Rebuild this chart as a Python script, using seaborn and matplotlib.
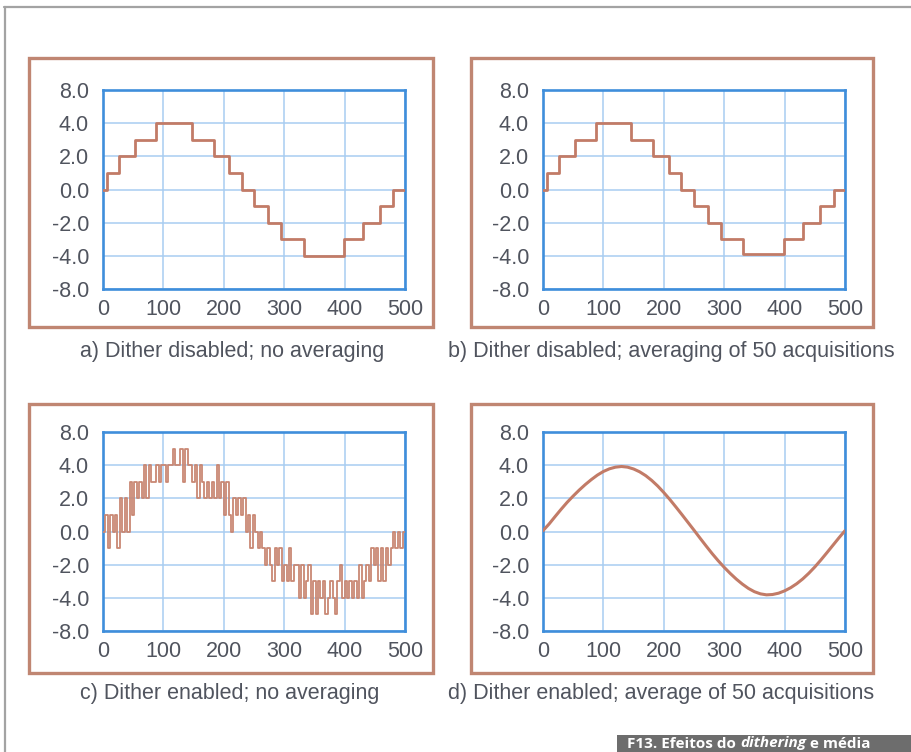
import numpy as np
import pandas as pd
import matplotlib
matplotlib.use("Agg")
import matplotlib.pyplot as plt
import seaborn as sns
from matplotlib.patches import Rectangle
from matplotlib.lines import Line2D

# ---------------- data ----------------
x_ticks = [0, 100, 200, 300, 400, 500]
y_tick_pos = [-6, -4, -2, 0, 2, 4, 6]
y_tick_labels = ["-8.0", "-4.0", "-2.0", "0.0", "2.0", "4.0", "8.0"]

# a) Dither disabled; no averaging  (step edges and levels)
a_x = [0, 7, 27, 53, 88, 147, 183, 209, 230, 250, 274, 295, 332, 399, 431, 459, 480, 500]
a_y = [0, 1, 2, 3, 4, 3, 2, 1, 0, -1, -2, -3, -4, -3, -2, -1, 0, 0]

# b) Dither disabled; averaging of 50 acquisitions
b_x = [0, 6, 27, 53, 88, 146, 182, 208, 229, 250, 273, 294, 331, 399, 431, 459, 481, 500]
b_y = [0, 1, 2, 3, 4, 3, 2, 1, 0, -1, -2, -3, -3.9, -3, -2, -1, 0, 0]

# c) Dither enabled; no averaging (samples every 4 units)
c_y = [0, 1, -1, 1, 0, 1, -1, 2, 0, 2,
       0, 3, 1, 3, 2, 3, 2, 4, 2, 4,
       3, 3, 4, 3, 4, 4, 3, 4, 4, 5,
       4, 4, 5, 3, 5, 4, 4, 3, 4, 2,
       4, 3, 2, 3, 2, 3, 2, 4, 2, 3,
       1, 3, 1, 0, 2, 1, 2, 1, 2, 0,
       1, -1, 1, 0, -1, 0, -1, -2, -1, -2,
       -3, -1, -2, -1, -3, -2, -3, -1, -3, -2,
       -2, -4, -2, -4, -3, -2, -5, -3, -5, -3,
       -4, -3, -5, -4, -3, -4, -5, -3, -2, -4,
       -3, -4, -3, -4, -3, -4, -2, -4, -3, -2,
       -3, -1, -2, -1, -3, -1, -3, -1, -2, -1,
       0, -1, 0, -1, 0, 0]
c_x = [4 * i for i in range(len(c_y))]

# d) Dither enabled; average of 50 acquisitions
d_x = list(range(0, 501, 10))
d_y = [0.05, 0.45, 0.90, 1.34, 1.76, 2.14, 2.50, 2.83, 3.13, 3.40,
       3.62, 3.78, 3.88, 3.92, 3.88, 3.77, 3.60, 3.37, 3.08, 2.74,
       2.35, 1.93, 1.48, 1.02, 0.55, 0.08, -0.40, -0.87, -1.33, -1.76,
       -2.16, -2.53, -2.87, -3.17, -3.43, -3.63, -3.76, -3.82, -3.80, -3.72,
       -3.58, -3.39, -3.15, -2.86, -2.52, -2.14, -1.72, -1.28, -0.83, -0.38,
       0.05]

captions = ["a) Dither disabled; no averaging",
            "b) Dither disabled; averaging of 50 acquisitions",
            "c) Dither enabled; no averaging",
            "d) Dither enabled; average of 50 acquisitions"]

# ---------------- style ----------------
sns.set_theme(style="white")
plt.rcParams["font.family"] = ["Liberation Sans", "DejaVu Sans"]

W, H = 911, 752
fig = plt.figure(figsize=(W / 100, H / 100), dpi=100)
fig.patch.set_facecolor("white")

TEXT = "#50545e"
SPINE = "#3f8edb"
GRID = "#a8cdf1"
LINE = "#c27b67"
BOX = "#c08672"


def rect(l, t, r, b):
    return [l / W, 1 - b / H, (r - l) / W, (b - t) / H]


axes_px = [(103, 90, 405, 289), (543, 90, 845, 289),
           (103, 432, 405, 631), (543, 432, 845, 631)]
boxes_px = [(29, 58, 433, 327), (471, 58, 873, 327),
            (29, 404, 433, 673), (471, 404, 873, 673)]
caption_px = [(80, 351), (448, 351), (80, 693), (448, 693)]

series = [(a_x, a_y, "steps-post", 2.0, LINE),
          (b_x, b_y, "steps-post", 2.0, LINE),
          (c_x, c_y, "steps-post", 1.3, "#c98874"),
          (d_x, d_y, "default", 2.2, LINE)]

for i in range(4):
    l, t, r, b = boxes_px[i]
    fig.add_artist(Rectangle((l / W, 1 - b / H), (r - l) / W, (b - t) / H,
                             transform=fig.transFigure, fill=False,
                             edgecolor=BOX, linewidth=2.4))
    ax = fig.add_axes(rect(*axes_px[i]))
    xs, ys, ds, lw, col = series[i]
    df = pd.DataFrame({"x": xs, "y": ys})
    sns.lineplot(data=df, x="x", y="y", ax=ax, estimator=None, sort=False,
                 drawstyle=ds, color=col, linewidth=lw, zorder=3)
    ax.set_xlim(0, 500)
    ax.set_ylim(-6, 6)
    ax.set_xticks(x_ticks)
    ax.set_yticks(y_tick_pos)
    ax.set_yticklabels(y_tick_labels)
    ax.set_xlabel("")
    ax.set_ylabel("")
    ax.grid(True, color=GRID, linewidth=1.1, zorder=1)
    ax.set_axisbelow(True)
    for s in ax.spines.values():
        s.set_color(SPINE)
        s.set_linewidth(1.9)
        s.set_visible(True)
    ax.tick_params(axis="both", length=0, labelsize=15.5, colors=TEXT)
    ax.tick_params(axis="y", pad=10)
    ax.tick_params(axis="x", pad=7)
    cx, cy = caption_px[i]
    fig.text(cx / W, 1 - cy / H, captions[i], ha="left", va="center",
             fontsize=15.5, color=TEXT)

# outer frame lines
fig.add_artist(Line2D([4 / W, 1], [1 - 7 / H, 1 - 7 / H], transform=fig.transFigure,
                      color="#a3a3a3", linewidth=1.6))
fig.add_artist(Line2D([5 / W, 5 / W], [1 - 7 / H, 0], transform=fig.transFigure,
                      color="#a3a3a3", linewidth=1.6))

# bottom figure tag
fig.add_artist(Rectangle((617 / W, 0), (W - 617) / W, 17 / H,
                         transform=fig.transFigure, color="#6d6d6d", linewidth=0))
tag_y = 1 - 747.5 / H
TAG_FS = 11
tag_font = ["Open Sans", "DejaVu Sans"]
fig.canvas.draw()
renderer = fig.canvas.get_renderer()
t1 = fig.text(627 / W, tag_y, "F13. Efeitos do ", ha="left", va="baseline",
              fontsize=TAG_FS, color="white", fontweight="bold", family=tag_font)
bb = t1.get_window_extent(renderer)
t2 = fig.text(bb.x1 / W, tag_y, "dithering", ha="left", va="baseline",
              fontsize=TAG_FS, color="white", fontweight="bold", fontstyle="italic",
              family=tag_font)
bb2 = t2.get_window_extent(renderer)
fig.text(bb2.x1 / W, tag_y, " e média", ha="left", va="baseline",
         fontsize=TAG_FS, color="white", fontweight="bold", family=tag_font)

fig.savefig("out.png", dpi=100)
